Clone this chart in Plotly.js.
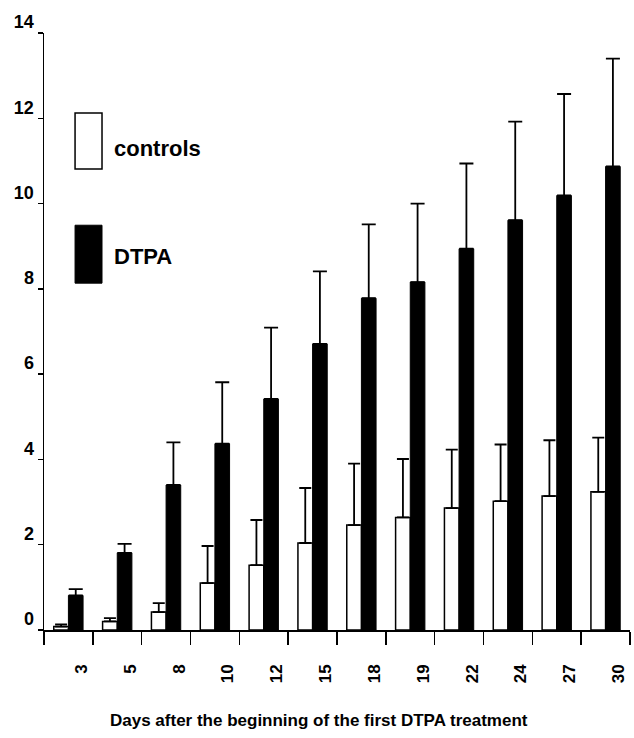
<!DOCTYPE html>
<html>
<head>
<meta charset="utf-8">
<script src="https://cdn.plot.ly/plotly-3.0.1.min.js"></script>
<style>html,body{margin:0;padding:0;background:#fff;}#chart{width:634px;height:738px;}</style>
</head>
<body>
<div id="chart"></div>
<script>
const days = ['3','5','8','10','12','15','18','19','22','24','27','30'];
const controls = [0.08, 0.2, 0.42, 1.1, 1.52, 2.04, 2.46, 2.64, 2.86, 3.02, 3.14, 3.24];
const controlsErr = [0.05, 0.08, 0.21, 0.87, 1.06, 1.29, 1.44, 1.37, 1.37, 1.33, 1.31, 1.27];
const dtpa = [0.81, 1.81, 3.40, 4.37, 5.42, 6.71, 7.78, 8.16, 8.94, 9.61, 10.19, 10.87];
const dtpaErr = [0.15, 0.21, 1.0, 1.44, 1.67, 1.70, 1.73, 1.84, 2.0, 2.31, 2.38, 2.53];
const yTicks = [0, 2, 4, 6, 8, 10, 12, 14];
const seriesNames = ['controls', 'DTPA'];
const xTitle = 'Days after the beginning of the first DTPA treatment';

const FONT = 'Liberation Sans, Arial, Helvetica, sans-serif';
const zeros = days.map(() => 0);

const traces = [
  {
    type: 'bar', name: seriesNames[0], x: days, y: controls,
    marker: {color: '#ffffff', line: {color: '#000', width: 1.5}},
    error_y: {type: 'data', symmetric: false, array: controlsErr, arrayminus: zeros, color: '#000', thickness: 1.8, width: 6},
    showlegend: false
  },
  {
    type: 'bar', name: seriesNames[1], x: days, y: dtpa,
    marker: {color: '#000000', line: {color: '#000', width: 1}},
    error_y: {type: 'data', symmetric: false, array: dtpaErr, arrayminus: zeros, color: '#000', thickness: 1.8, width: 7},
    showlegend: false
  }
];

const layout = {
  width: 634, height: 738,
  margin: {l: 44, r: 4, t: 33, b: 108},
  paper_bgcolor: '#fff', plot_bgcolor: '#fff',
  barmode: 'group', bargap: 0.4, bargroupgap: 0,
  font: {family: FONT, color: '#000'},
  xaxis: {
    type: 'category', showline: true, linecolor: '#000', linewidth: 1.5,
    ticks: 'outside', tickson: 'boundaries', ticklen: 13, tickwidth: 1.5, tickcolor: '#000',
    tickangle: -90, tickfont: {family: FONT, size: 17, weight: 'bold', color: '#000'},
    ticklabelshift: 13, ticklabelstandoff: 26,
    showgrid: false, zeroline: false, automargin: false
  },
  yaxis: {
    range: [0, 14], tickvals: yTicks, ticktext: yTicks.map(String),
    showline: true, linecolor: '#000', linewidth: 1.5,
    ticks: 'outside', ticklen: 5, tickwidth: 1.5, tickcolor: '#000',
    tickfont: {family: FONT, size: 18, weight: 'bold', color: '#000'},
    ticklabelshift: -11,
    showgrid: false, zeroline: false, automargin: false
  },
  shapes: [
    {type: 'rect', xref: 'paper', yref: 'paper', x0: 0.053, x1: 0.099, y0: 0.772, y1: 0.866, fillcolor: '#fff', line: {color: '#000', width: 1.5}},
    {type: 'rect', xref: 'paper', yref: 'paper', x0: 0.053, x1: 0.099, y0: 0.581, y1: 0.678, fillcolor: '#000', line: {color: '#000', width: 1}}
  ],
  annotations: [
    {xref: 'paper', yref: 'paper', x: 0.116, y: 0.807, xanchor: 'left', yanchor: 'middle', showarrow: false, text: seriesNames[0], font: {family: FONT, size: 22, weight: 'bold', color: '#000'}},
    {xref: 'paper', yref: 'paper', x: 0.116, y: 0.626, xanchor: 'left', yanchor: 'middle', showarrow: false, text: seriesNames[1], font: {family: FONT, size: 22, weight: 'bold', color: '#000'}},
    {xref: 'paper', yref: 'paper', x: 0.469, y: -0.152, xanchor: 'center', yanchor: 'middle', showarrow: false, text: xTitle, font: {family: FONT, size: 17, weight: 'bold', color: '#000'}}
  ]
};

Plotly.newPlot('chart', traces, layout, {displayModeBar: false, staticPlot: true});
</script>
</body>
</html>
